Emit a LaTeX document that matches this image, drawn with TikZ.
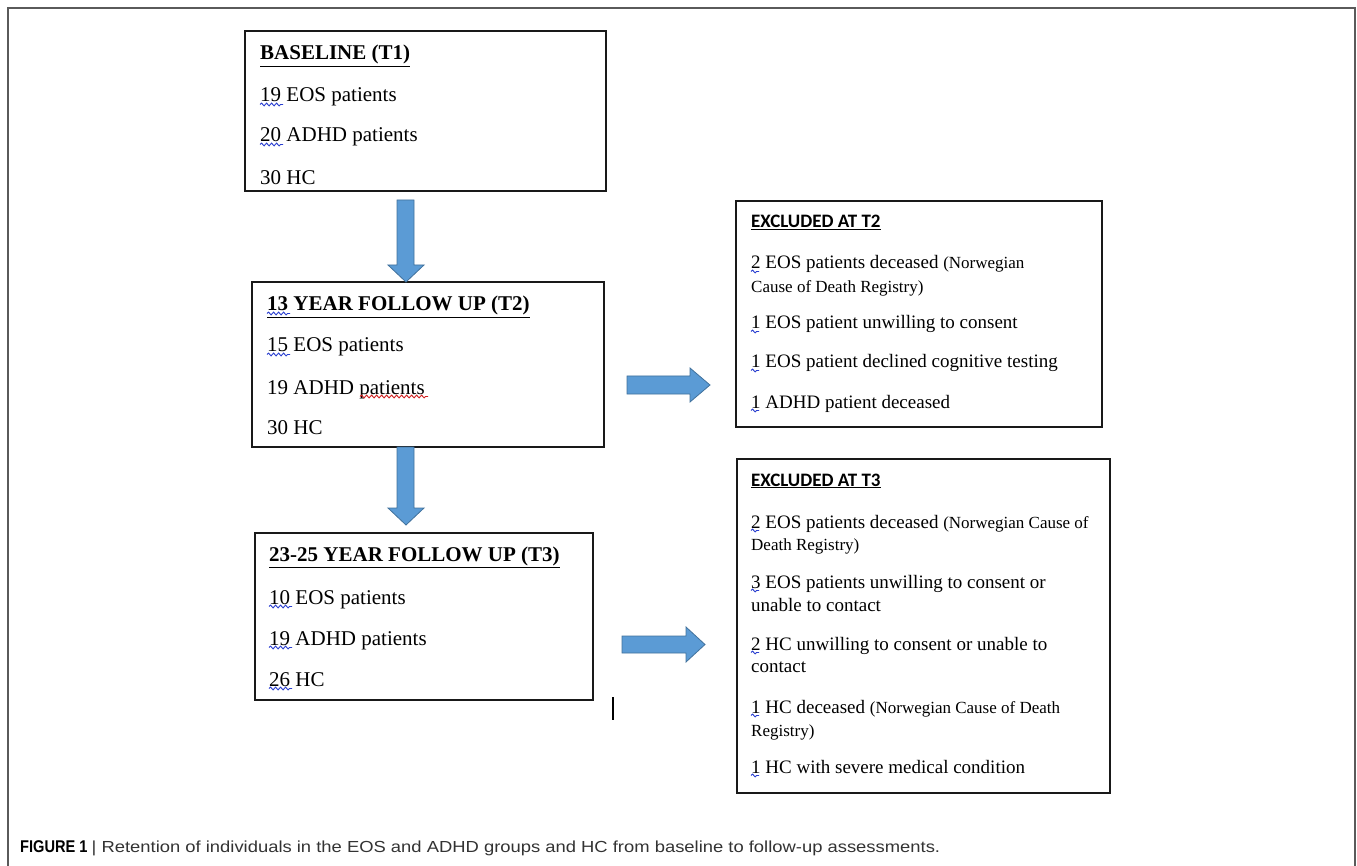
\documentclass[tikz,border=0pt]{standalone}
\usepackage{fontspec}
\setmainfont{Liberation Serif}
\newfontfamily\calibfont{Carlito}
\newfontfamily\capfont{Liberation Sans}
\newfontfamily\capwide[FakeStretch=1.15]{Liberation Sans}
\newfontfamily\capnarrow[FakeStretch=0.86]{Liberation Sans}
\usetikzlibrary{calc,decorations.pathmorphing}
\definecolor{arrowfill}{HTML}{5B9BD5}
\definecolor{arrowline}{HTML}{41719C}
\definecolor{frameline}{HTML}{5A5A5A}
\definecolor{sqblue}{HTML}{2A3FD0}
\definecolor{sqred}{HTML}{D02020}
\definecolor{captext}{HTML}{333333}
\tikzset{
  box/.style={draw=black!90, line width=1.4pt, rectangle, inner sep=0pt},
  txt/.style={anchor=base west, inner sep=0pt, font=\fontsize{21}{25}\selectfont},
  etxt/.style={anchor=base west, inner sep=0pt, font=\fontsize{19}{23}\selectfont},
  stxt/.style={anchor=base west, inner sep=0pt, font=\fontsize{17}{20}\selectfont},
  head/.style={anchor=base west, inner sep=0pt, font=\fontsize{21}{25}\selectfont\bfseries},
  ehead/.style={anchor=base west, inner sep=0pt, font=\fontsize{19}{23}\selectfont\calibfont\bfseries},
  barrow/.style={fill=arrowfill, draw=arrowline, line width=0.8pt},
  sq/.style={line width=0.9pt, decorate, decoration={snake, amplitude=1.4pt, segment length=5pt}},
  frame/.style={draw=frameline, line width=1.6pt}
}
\newcommand\sqline[4]{\draw[sq, #4] ($(#1.base west)+(#2,2.5)$) -- ++(#3,0);}
\newcommand\smal[1]{{\fontsize{17}{20}\selectfont #1}}
\begin{document}
\begin{tikzpicture}[x=1pt,y=-1pt]
\useasboundingbox (0,0) rectangle (1357,866);
% outer frame (no bottom edge)
\draw[frame] (8,866) -- (8,8) -- (1355,8) -- (1355,866);

% boxes
\node[box, minimum width=361, minimum height=160] (b1) at (425.5,111) {};
\node[box, minimum width=352, minimum height=165] (b2) at (428,364.5) {};
\node[box, minimum width=338, minimum height=167] (b3) at (424,616.5) {};
\node[box, minimum width=366, minimum height=226] (e2) at (919,314) {};
\node[box, minimum width=373, minimum height=334] (e3) at (923.5,626) {};

% block arrows
\filldraw[barrow] (397,200) -- (414,200) -- (414,265) -- (424,265) -- (406,282) -- (388,265) -- (397,265) -- cycle;
\filldraw[barrow] (397,447) -- (414,447) -- (414,508) -- (424,508) -- (406,525) -- (388,508) -- (397,508) -- cycle;
\filldraw[barrow] (627,376) -- (690,376) -- (690,368) -- (710,385) -- (690,402) -- (690,394) -- (627,394) -- cycle;
\filldraw[barrow] (622,636) -- (686,636) -- (686,627) -- (705,644.5) -- (686,662) -- (686,653) -- (622,653) -- cycle;

% small stray line
\coordinate (ls) at (613,697);
\coordinate (le) at (613,720);
\draw[line width=1.4pt] (ls) -- (le);

% baseline box
\node[head] (b1h) at (260,60) {\underline{BASELINE (T1)}};
\node[txt] (b1a) at (260,102) {19 EOS patients};
\node[txt] (b1b) at (260,142) {20 ADHD patients};
\node[txt] (b1c) at (260,185) {30 HC};
\sqline{b1a}{0}{23}{sqblue}
\sqline{b1b}{0}{23}{sqblue}

% 13 year box
\node[head] (b2h) at (267,311) {\underline{13 YEAR FOLLOW UP (T2)}};
\node[txt] (b2a) at (267,352) {15 EOS patients};
\node[txt] (b2b) at (267,394) {19 ADHD patients};
\node[txt] (b2c) at (267,434) {30 HC};
\sqline{b2h}{0}{23}{sqblue}
\sqline{b2a}{0}{23}{sqblue}
\sqline{b2b}{93}{68}{sqred}

% 23-25 year box
\node[head] (b3h) at (269,561) {\underline{23-25 YEAR FOLLOW UP (T3)}};
\node[txt] (b3a) at (269,604) {10 EOS patients};
\node[txt] (b3b) at (269,645) {19 ADHD patients};
\node[txt] (b3c) at (269,686) {26 HC};
\sqline{b3a}{0}{23}{sqblue}
\sqline{b3b}{0}{23}{sqblue}
\sqline{b3c}{0}{23}{sqblue}

% excluded at T2
\node[ehead] (e2h) at (751,228) {\underline{EXCLUDED AT T2}};
\node[etxt] (e2a) at (751,269) {2 EOS patients deceased \smal{(Norwegian}};
\node[stxt] (e2b) at (751,293) {Cause of Death Registry)};
\node[etxt] (e2c) at (751,329) {1 EOS patient unwilling to consent};
\node[etxt] (e2d) at (751,368) {1 EOS patient declined cognitive testing};
\node[etxt] (e2e) at (751,408) {1 ADHD patient deceased};
\foreach \n in {e2a,e2c,e2d,e2e} {\sqline{\n}{0}{8}{sqblue}}

% excluded at T3
\node[ehead] (e3h) at (751,486) {\underline{EXCLUDED AT T3}};
\node[etxt] (e3a) at (751,528) {2 EOS patients deceased \smal{(Norwegian Cause of}};
\node[stxt] (e3b) at (751,550) {Death Registry)};
\node[etxt] (e3c) at (751,588) {3 EOS patients unwilling to consent or};
\node[etxt] (e3d) at (751,611) {unable to contact};
\node[etxt] (e3e) at (751,650) {2 HC unwilling to consent or unable to};
\node[etxt] (e3f) at (751,672) {contact};
\node[etxt] (e3g) at (751,713) {1 HC deceased \smal{(Norwegian Cause of Death}};
\node[stxt] (e3h2) at (751,736) {Registry)};
\node[etxt] (e3i) at (751,773) {1 HC with severe medical condition};
\foreach \n in {e3a,e3c,e3e,e3g,e3i} {\sqline{\n}{0}{8}{sqblue}}

% caption
\node[anchor=base west, inner sep=0pt, font=\fontsize{17}{20}\selectfont\capnarrow] (cap) at (20,852)
  {\textbf{FIGURE 1} {\color{captext}\capwide\fontsize{16}{18}\selectfont | Retention of individuals in the EOS and ADHD groups and HC from baseline to follow-up assessments.}};
\end{tikzpicture}
\end{document}
